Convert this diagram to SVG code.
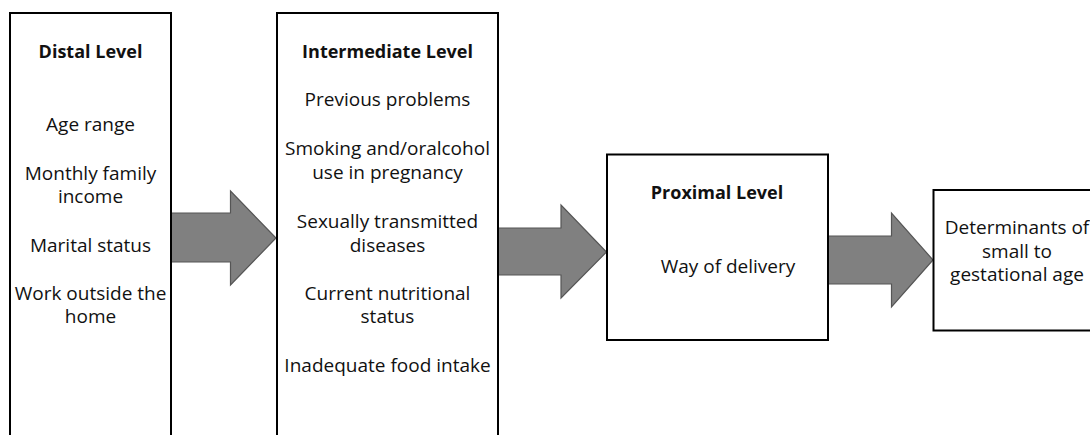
<svg xmlns="http://www.w3.org/2000/svg" width="1090" height="435" viewBox="0 0 1090 435">
<style>
.box{fill:#fff;stroke:#000;stroke-width:2}
.arrow{fill:#808080;stroke:#555;stroke-width:1.2;stroke-linejoin:miter}
text{font-family:"Open Sans","Noto Sans","Liberation Sans",sans-serif;font-size:19px;fill:#111;text-anchor:middle}
.h{font-weight:bold;font-size:18px}
</style>
<rect width="1090" height="435" fill="#fff"/>
<g id="connectors">
<polygon class="arrow" points="171,213 230.5,213 230.5,191 276,238 230.5,285 230.5,262 171,262"/>
<polygon class="arrow" points="498,228 561,228 561,205 606.5,252 561,298 561,275 498,275"/>
<polygon class="arrow" points="828,236 891.5,236 891.5,213 933,260 891.5,307 891.5,284 828,284"/>
</g>
<g id="distal">
<rect class="box" x="10" y="13" width="161" height="430"/>
<text class="h" x="90.5" y="58">Distal Level</text>
<text x="90.5" y="130.5">Age range</text>
<text x="90.5" y="180">Monthly family</text>
<text x="90.5" y="203">income</text>
<text x="90.5" y="251.5">Marital status</text>
<text x="90.5" y="300">Work outside the</text>
<text x="90.5" y="323">home</text>
</g>
<g id="intermediate">
<rect class="box" x="277" y="13" width="221" height="430"/>
<text class="h" x="387.5" y="58">Intermediate Level</text>
<text x="387.5" y="106">Previous problems</text>
<text x="387.5" y="155">Smoking and/oralcohol</text>
<text x="387.5" y="179">use in pregnancy</text>
<text x="387.5" y="227.5">Sexually transmitted</text>
<text x="387.5" y="251.5">diseases</text>
<text x="387.5" y="300">Current nutritional</text>
<text x="387.5" y="323">status</text>
<text x="387.5" y="372">Inadequate food intake</text>
</g>
<g id="proximal">
<rect class="box" x="607" y="154.5" width="221" height="185.5"/>
<text class="h" x="717" y="199">Proximal Level</text>
<text x="728" y="273">Way of delivery</text>
</g>
<g id="outcome">
<rect class="box" x="933.5" y="190" width="170" height="140.5"/>
<text x="1017" y="234">Determinants of</text>
<text x="1017" y="258">small to</text>
<text x="1017" y="281">gestational age</text>
</g>
</svg>
